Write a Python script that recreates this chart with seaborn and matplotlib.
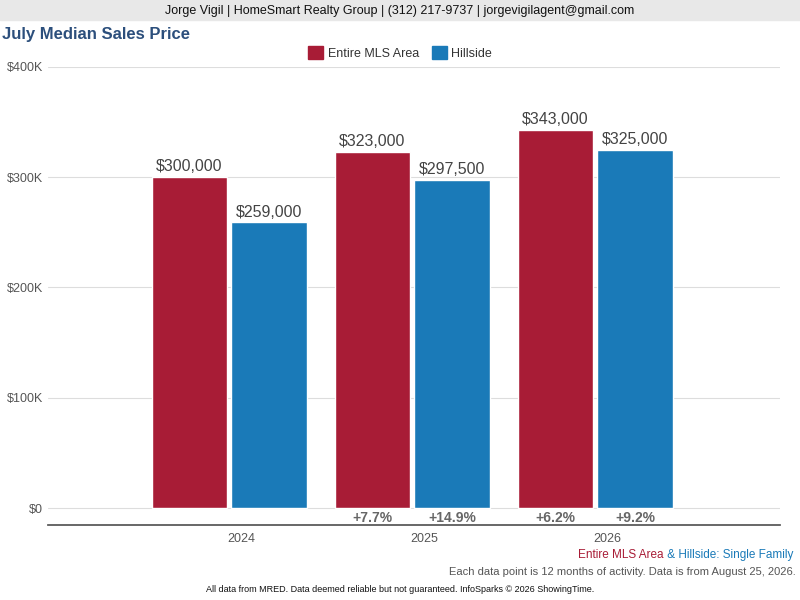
import matplotlib
matplotlib.use('Agg')
import matplotlib.pyplot as plt
import matplotlib.patches as mpatches
import pandas as pd
import seaborn as sns

years = ['2024', '2025', '2026']
mls_values = [300000, 323000, 343000]
hillside_values = [259000, 297500, 325000]
mls_change = ['', '+7.7%', '+6.2%']
hillside_change = ['', '+14.9%', '+9.2%']
series = ['Entire MLS Area', 'Hillside']
colors = ['#a81c36', '#1a7ab8']

df = pd.DataFrame({
    'year': years * 2,
    'value': mls_values + hillside_values,
    'series': [series[0]] * 3 + [series[1]] * 3,
})

sns.set_theme(style='white')
plt.rcParams['font.family'] = ['Liberation Sans', 'DejaVu Sans']

fig = plt.figure(figsize=(8, 6), dpi=100)
ax = fig.add_axes([0.06, 0.125, 0.915, 0.7636])
sns.barplot(data=df, x='year', y='value', hue='series', palette=colors, saturation=1,
            width=0.87, gap=0.05, ax=ax, legend=False)
ax.set_xlim(-0.99, 3.01)
ax.set_ylim(-15400, 400000)
for y in range(0, 400001, 100000):
    ax.axhline(y, color='#dddddd', lw=0.8, zorder=0)
ax.set_xticks([0.066, 1.066, 2.066])
ax.set_xticklabels(years)
ax.set_yticks(range(0, 400001, 100000))
ax.set_yticklabels(['$0', '$100K', '$200K', '$300K', '$400K'], color='#555555', fontsize=9)
ax.tick_params(axis='x', colors='#555555', labelsize=9, length=0, pad=6)
ax.tick_params(axis='y', length=0)
ax.set_xlabel('')
ax.set_ylabel('')
for s in ['top', 'right', 'left']:
    ax.spines[s].set_visible(False)
ax.spines['bottom'].set_color('#555555')

for cont, changes in zip(ax.containers, [mls_change, hillside_change]):
    for bar, ch in zip(cont, changes):
        cx = bar.get_x() + bar.get_width() / 2
        h = bar.get_height()
        ax.text(cx, h + 2500, f'${h:,.0f}', ha='center', va='bottom', fontsize=11.5, color='#444444')
        if ch:
            ax.text(cx, -9000, ch, ha='center', va='center', fontsize=10, fontweight='bold', color='#666666')

# header
fig.patches.append(plt.Rectangle((0, 0.967), 1, 0.033, transform=fig.transFigure, color='#e8e8e8', zorder=0))
fig.text(0.5, 0.982, 'Jorge Vigil | HomeSmart Realty Group | (312) 217-9737 | jorgevigilagent@gmail.com',
         ha='center', va='center', fontsize=9, color='#111111')
fig.text(0.003, 0.942, 'July Median Sales Price', ha='left', va='center', fontsize=12,
         fontweight='bold', color='#2c4f7c')

# legend
handles = [mpatches.Patch(color=c, label=l) for c, l in zip(colors, series)]
fig.legend(handles=handles, loc='center', bbox_to_anchor=(0.5, 0.912), ncol=2, frameon=False,
           fontsize=9, handlelength=1.2, handleheight=1.2, columnspacing=1.0, handletextpad=0.4,
           labelcolor='#333333')

# footer
fig.text(0.83, 0.075, 'Entire MLS Area', ha='right', va='center', fontsize=8.5, color=colors[0])
fig.text(0.83, 0.075, ' & Hillside: Single Family', ha='left', va='center', fontsize=8.5, color=colors[1])
fig.text(0.995, 0.047, 'Each data point is 12 months of activity. Data is from August 25, 2026.',
         ha='right', va='center', fontsize=8, color='#555555')
fig.text(0.5, 0.017, 'All data from MRED. Data deemed reliable but not guaranteed. InfoSparks © 2026 ShowingTime.',
         ha='center', va='center', fontsize=6.5, color='#111111')

fig.savefig('out.png', dpi=100)
